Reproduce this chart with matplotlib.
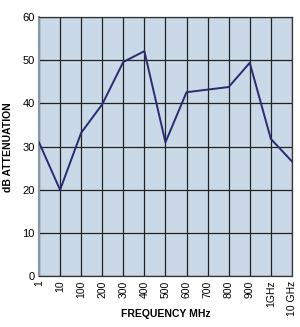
import matplotlib
matplotlib.use("Agg")
import matplotlib.pyplot as plt

freq_labels = ["1", "10", "100", "200", "300", "400", "500", "600",
               "700", "800", "900", "1GHz", "10 GHz"]
attenuation = [31, 20, 33.2, 39.8, 49.6, 52.1, 31, 42.6, 43.2, 43.8, 49.4, 31.8, 26.6]

fig = plt.figure(figsize=(3.0, 3.27), dpi=100)
ax = fig.add_axes([0.13, 0.155, 0.843, 0.793])

ax.set_facecolor("#c9d9e7")
x = list(range(len(freq_labels)))
ax.plot(x, attenuation, color="#2b2a72", linewidth=1.4, zorder=3)

ax.set_xlim(0, len(freq_labels) - 1)
ax.set_ylim(0, 60)
ax.set_xticks(x)
ax.set_xticklabels(freq_labels, rotation=90, fontsize=7.5, family="Liberation Sans")
ax.set_yticks(range(0, 61, 10))
ax.set_yticklabels([str(v) for v in range(0, 61, 10)], fontsize=8, family="Liberation Sans")
ax.tick_params(length=0, pad=3)

ax.grid(True, color="#222222", linewidth=0.9, zorder=1)
ax.set_axisbelow(True)
for side in ["top", "right", "bottom"]:
    ax.spines[side].set_color("#333333")
    ax.spines[side].set_linewidth(0.9)
ax.spines["left"].set_color("#8a96a0")
ax.spines["left"].set_linewidth(1.5)

fig.text(0.553, 0.04, "FREQUENCY MHz", fontsize=7.5, fontweight="bold",
         family="Liberation Sans", ha="center", va="center")
ax.set_ylabel("dB ATTENUATION", fontsize=7.5, fontweight="bold", family="Liberation Sans", labelpad=7)

fig.savefig("out.png", dpi=100)
